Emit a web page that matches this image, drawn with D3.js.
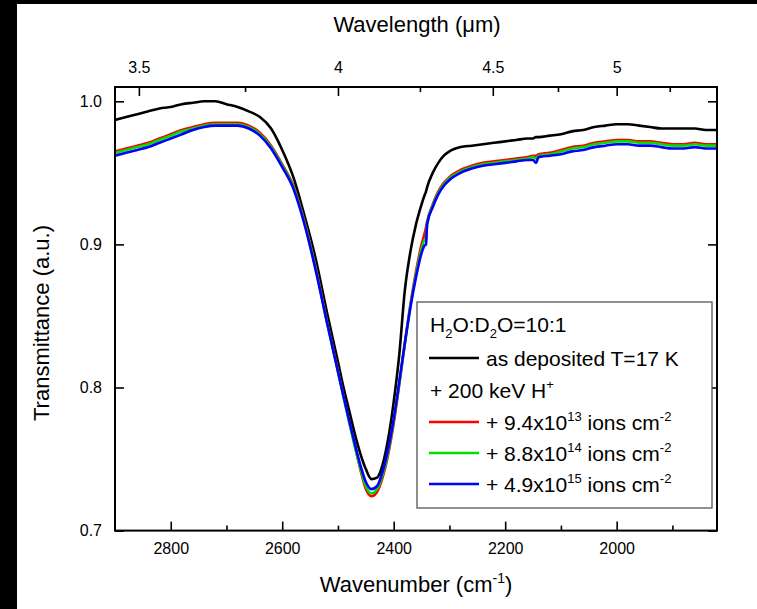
<!DOCTYPE html>
<html><head><meta charset="utf-8">
<script src="https://cdn.jsdelivr.net/npm/d3@7"></script>
<style>
html,body{margin:0;padding:0;background:#fff;}
svg{display:block;font-family:"Liberation Sans",Arial,sans-serif;}
</style></head>
<body>
<svg id="c" width="757" height="609"></svg>
<script>
// ---- data ----
const wavenumber = [2900,2880,2860,2840,2820,2800,2780,2760,2740,2720,2700,2680,2660,2640,2620,2600,2580,2560,2540,2520,2500,2490,2480,2470,2460,2450,2440,2430,2420,2410,2400,2390,2380,2370,2360,2350,2345,2342,2340,2330,2320,2310,2300,2280,2260,2240,2220,2200,2180,2160,2150,2145,2140,2120,2100,2080,2060,2040,2020,2000,1980,1960,1940,1920,1900,1880,1860,1840,1820];
const asDeposited = [0.987,0.989,0.991,0.993,0.995,0.996,0.998,0.999,1.000,1.000,0.998,0.996,0.993,0.989,0.981,0.966,0.947,0.920,0.890,0.853,0.818,0.800,0.784,0.768,0.754,0.743,0.736,0.737,0.746,0.764,0.790,0.823,0.868,0.895,0.914,0.928,0.934,0.937,0.940,0.950,0.957,0.962,0.965,0.968,0.969,0.970,0.971,0.972,0.973,0.974,0.974,0.975,0.975,0.976,0.977,0.979,0.980,0.982,0.983,0.984,0.984,0.983,0.982,0.981,0.981,0.981,0.981,0.980,0.980];
const fluence1 = [0.965,0.967,0.969,0.971,0.974,0.977,0.980,0.982,0.984,0.985,0.985,0.985,0.983,0.978,0.969,0.956,0.941,0.916,0.884,0.847,0.812,0.794,0.777,0.760,0.743,0.729,0.724,0.727,0.737,0.753,0.775,0.802,0.831,0.858,0.881,0.900,0.907,0.912,0.916,0.928,0.937,0.943,0.947,0.952,0.955,0.957,0.958,0.959,0.960,0.961,0.962,0.962,0.963,0.964,0.966,0.968,0.969,0.971,0.972,0.973,0.973,0.972,0.972,0.971,0.970,0.970,0.971,0.970,0.970];
const fluence2 = [0.964,0.966,0.968,0.970,0.973,0.976,0.979,0.981,0.983,0.984,0.984,0.984,0.982,0.977,0.968,0.955,0.940,0.915,0.883,0.846,0.811,0.793,0.776,0.759,0.744,0.731,0.726,0.729,0.739,0.755,0.777,0.803,0.831,0.857,0.879,0.897,0.903,0.904,0.915,0.927,0.936,0.942,0.946,0.951,0.954,0.956,0.957,0.958,0.959,0.960,0.961,0.960,0.962,0.963,0.965,0.967,0.968,0.970,0.971,0.972,0.972,0.971,0.971,0.970,0.969,0.969,0.970,0.969,0.969];
const fluence3 = [0.962,0.964,0.966,0.968,0.971,0.974,0.977,0.980,0.982,0.983,0.983,0.983,0.981,0.976,0.967,0.954,0.939,0.914,0.882,0.846,0.811,0.794,0.777,0.761,0.746,0.734,0.729,0.731,0.741,0.757,0.778,0.804,0.831,0.856,0.877,0.894,0.899,0.900,0.914,0.926,0.935,0.941,0.945,0.950,0.953,0.955,0.956,0.957,0.958,0.959,0.959,0.957,0.961,0.962,0.963,0.965,0.966,0.968,0.969,0.970,0.970,0.969,0.969,0.968,0.967,0.967,0.968,0.967,0.967];

const bottomMajor = [2800,2600,2400,2200,2000];
const bottomMinor = [2700,2500,2300,2100,1900];
const topMajor = [3.5,4,4.5,5];
const topMajorLabels = ["3.5","4","4.5","5"];
const topMinor = [3.75,4.25,4.75,5.25];
const yTicks = [0.7,0.8,0.9,1.0];

const seriesNames = ["as deposited","9.4e13","8.8e14","4.9e15"];
const seriesColors = ["#000000","#ff0000","#00e000","#0000ff"];

// ---- layout ----
const svg = d3.select("#c");
const L=115, R=717, T=87, B=530.6;
const x = d3.scaleLinear().domain([2900,1820]).range([L,R]);
const y = d3.scaleLinear().domain([0.7,1.01]).range([B,T]);
const fam = "'Liberation Sans',Arial,sans-serif";

svg.append("rect").attr("x",0).attr("y",0).attr("width",757).attr("height",609).attr("fill","#fff");
svg.append("rect").attr("x",0).attr("y",0).attr("width",17).attr("height",609).attr("fill","#000");
svg.append("rect").attr("x",0).attr("y",0).attr("width",757).attr("height",4).attr("fill","#000");

svg.append("clipPath").attr("id","clip").append("rect").attr("x",L).attr("y",T).attr("width",R-L).attr("height",B-T);

const allSeries = [asDeposited,fluence1,fluence2,fluence3];
const line = d3.line().x(d=>x(d[0])).y(d=>y(d[1])).curve(d3.curveMonotoneX);
const gLines = svg.append("g").attr("clip-path","url(#clip)");
allSeries.forEach((s,i)=>{
  gLines.append("path").datum(wavenumber.map((w,j)=>[w,s[j]]))
    .attr("fill","none").attr("stroke",seriesColors[i]).attr("stroke-width",2.6)
    .attr("stroke-linejoin","round").attr("d",line);
});

function styleAxis(g){
  g.select(".domain").remove();
  g.selectAll(".tick line").attr("stroke","#000").attr("stroke-width",1.6);
  g.selectAll("text").attr("fill","#000").attr("font-size","16px").attr("font-family",fam);
}
svg.append("g").attr("transform",`translate(0,${B})`)
  .call(d3.axisBottom(x).tickValues(bottomMajor).tickSize(-9).tickPadding(12).tickFormat(d3.format("d"))).call(styleAxis);
svg.append("g").attr("transform",`translate(0,${B})`)
  .call(d3.axisBottom(x).tickValues(bottomMinor).tickSize(-5).tickFormat("")).call(styleAxis);
svg.append("g").attr("transform",`translate(0,${T})`)
  .call(d3.axisTop(x).tickValues(topMajor.map(l=>1e4/l)).tickSize(-9).tickPadding(14).tickFormat((d,i)=>topMajorLabels[i])).call(styleAxis);
svg.append("g").attr("transform",`translate(0,${T})`)
  .call(d3.axisTop(x).tickValues(topMinor.map(l=>1e4/l)).tickSize(-5).tickFormat("")).call(styleAxis);
svg.append("g").attr("transform",`translate(${L},0)`)
  .call(d3.axisLeft(y).tickValues(yTicks).tickSize(-9).tickPadding(13).tickFormat(d3.format(".1f"))).call(styleAxis);
svg.append("g").attr("transform",`translate(${R},0)`)
  .call(d3.axisRight(y).tickValues(yTicks).tickSize(-9).tickFormat("")).call(styleAxis);

svg.append("rect").attr("x",L).attr("y",T).attr("width",R-L).attr("height",B-T)
  .attr("fill","none").attr("stroke","#000").attr("stroke-width",2);

// axis titles
svg.append("text").attr("x",417).attr("y",32).attr("text-anchor","middle").attr("font-size","22px").attr("font-family",fam)
  .text("Wavelength (μm)");
const tBot = svg.append("text").attr("x",416).attr("y",592).attr("text-anchor","middle").attr("font-size","22px").attr("font-family",fam);
tBot.append("tspan").text("Wavenumber (cm");
tBot.append("tspan").attr("font-size","14px").attr("dy",-9).text("-1");
tBot.append("tspan").attr("dy",9).text(")");
svg.append("text").attr("transform","translate(49,323) rotate(-90)").attr("text-anchor","middle")
  .attr("font-size","22px").attr("font-family",fam).text("Transmittance (a.u.)");

// legend
const lg = svg.append("g");
lg.append("rect").attr("x",417).attr("y",302).attr("width",295).attr("height",206)
  .attr("fill","#fff").attr("stroke","#555").attr("stroke-width",1.3);
const lfs = "21px", sfs = "13px";
const t0 = lg.append("text").attr("x",430).attr("y",332).attr("font-size",lfs).attr("font-family",fam);
t0.append("tspan").text("H");
t0.append("tspan").attr("font-size",sfs).attr("dy",6).text("2");
t0.append("tspan").attr("dy",-6).text("O:D");
t0.append("tspan").attr("font-size",sfs).attr("dy",6).text("2");
t0.append("tspan").attr("dy",-6).text("O=10:1");

const legendRows = [
  {c:0, yl:358, yt:366, parts:[["as deposited T=17 K",0]]},
  {c:1, yl:422, yt:430, parts:[["+ 9.4x10",0],["13",1],[" ions cm",0],["-2",1]]},
  {c:2, yl:453, yt:461, parts:[["+ 8.8x10",0],["14",1],[" ions cm",0],["-2",1]]},
  {c:3, yl:484, yt:492, parts:[["+ 4.9x10",0],["15",1],[" ions cm",0],["-2",1]]}
];
legendRows.forEach(r=>{
  lg.append("line").attr("x1",429).attr("x2",479).attr("y1",r.yl).attr("y2",r.yl)
    .attr("stroke",seriesColors[r.c]).attr("stroke-width",2.6);
  const t = lg.append("text").attr("x",486).attr("y",r.yt).attr("font-size",lfs).attr("font-family",fam);
  let up=false;
  r.parts.forEach(p=>{
    if(p[1]){ t.append("tspan").attr("font-size",sfs).attr("dy",-9).text(p[0]); up=true; }
    else { t.append("tspan").attr("dy",up?9:0).text(p[0]); up=false; }
  });
});
const t2 = lg.append("text").attr("x",430).attr("y",398).attr("font-size",lfs).attr("font-family",fam);
t2.append("tspan").text("+ 200 keV H");
t2.append("tspan").attr("font-size",sfs).attr("dy",-9).text("+");
</script>
</body></html>
